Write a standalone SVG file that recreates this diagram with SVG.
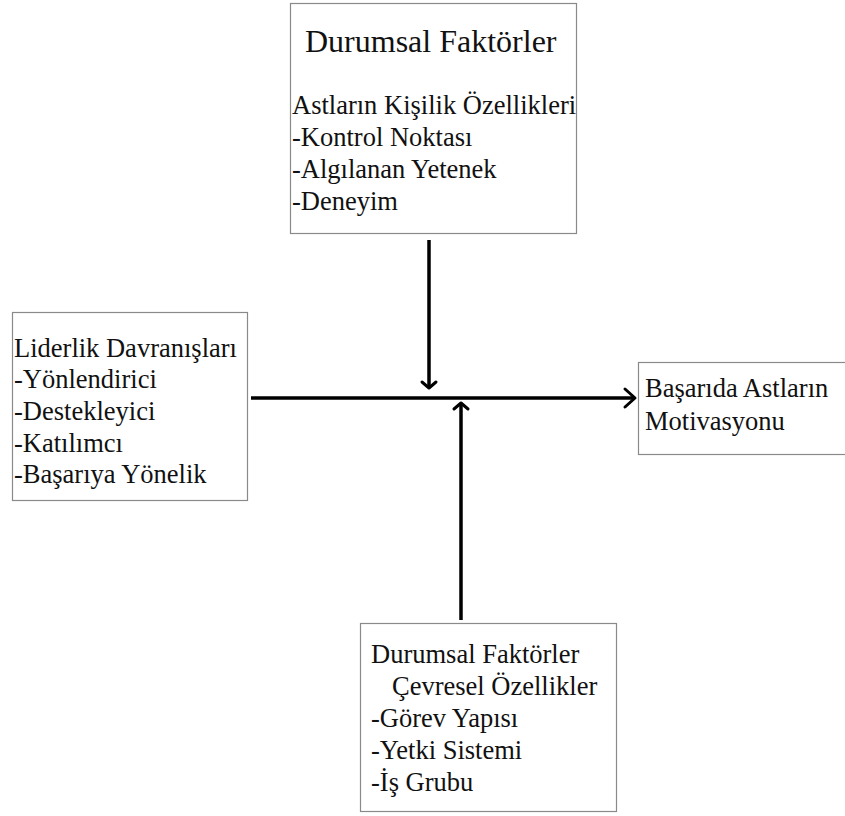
<svg xmlns="http://www.w3.org/2000/svg" width="845" height="816" viewBox="0 0 845 816">
  <style>
    .box { fill: #ffffff; stroke: #8a8a8a; stroke-width: 1.2; }
    .t { font-family: "Liberation Serif", "Times New Roman", serif; font-size: 26.5px; fill: #111111; }
    .title { font-size: 32px; }
    .wire { stroke: #000000; stroke-width: 3.5; fill: none; stroke-linecap: butt; }
    .head { stroke: #000000; stroke-width: 3; fill: none; stroke-linecap: round; stroke-linejoin: round; }
  </style>
  <rect width="845" height="816" fill="#ffffff"/>

  <!-- situational factors: subordinate traits -->
  <g id="node-subordinates">
    <rect class="box" x="290.5" y="3.5" width="286" height="230"/>
    <text class="t title" x="305" y="52">Durumsal Faktörler</text>
    <text class="t" x="292" y="114">Astların Kişilik Özellikleri</text>
    <text class="t" x="292" y="146">-Kontrol Noktası</text>
    <text class="t" x="292" y="178">-Algılanan Yetenek</text>
    <text class="t" x="292" y="210">-Deneyim</text>
  </g>

  <!-- leader behaviours -->
  <g id="node-leadership">
    <rect class="box" x="12.5" y="312.5" width="235" height="188"/>
    <text class="t" x="14" y="357">Liderlik Davranışları</text>
    <text class="t" x="14" y="388">-Yönlendirici</text>
    <text class="t" x="14" y="420">-Destekleyici</text>
    <text class="t" x="14" y="452">-Katılımcı</text>
    <text class="t" x="14" y="483">-Başarıya Yönelik</text>
  </g>

  <!-- outcome -->
  <g id="node-motivation">
    <rect class="box" x="638.5" y="362.5" width="220" height="92"/>
    <text class="t" x="645" y="397">Başarıda Astların</text>
    <text class="t" x="645" y="430">Motivasyonu</text>
  </g>

  <!-- situational factors: environment -->
  <g id="node-environment">
    <rect class="box" x="360.5" y="623.5" width="256" height="188"/>
    <text class="t" x="371" y="663">Durumsal Faktörler</text>
    <text class="t" x="392" y="695">Çevresel Özellikler</text>
    <text class="t" x="371" y="727">-Görev Yapısı</text>
    <text class="t" x="371" y="759">-Yetki Sistemi</text>
    <text class="t" x="371" y="791">-İş Grubu</text>
  </g>

  <g id="connectors">
    <!-- main path: behaviour to motivation -->
    <line class="wire" x1="251" y1="398" x2="634" y2="398"/>
    <polyline class="head" points="625,389 635,398 625,407"/>
    <!-- subordinate traits moderate from above -->
    <line class="wire" x1="429" y1="240" x2="429" y2="387"/>
    <polyline class="head" points="422,382 429,388 436,382"/>
    <!-- environment moderates from below -->
    <line class="wire" x1="461" y1="620" x2="461" y2="404"/>
    <polyline class="head" points="454,409 461,403 468,409"/>
  </g>
</svg>
